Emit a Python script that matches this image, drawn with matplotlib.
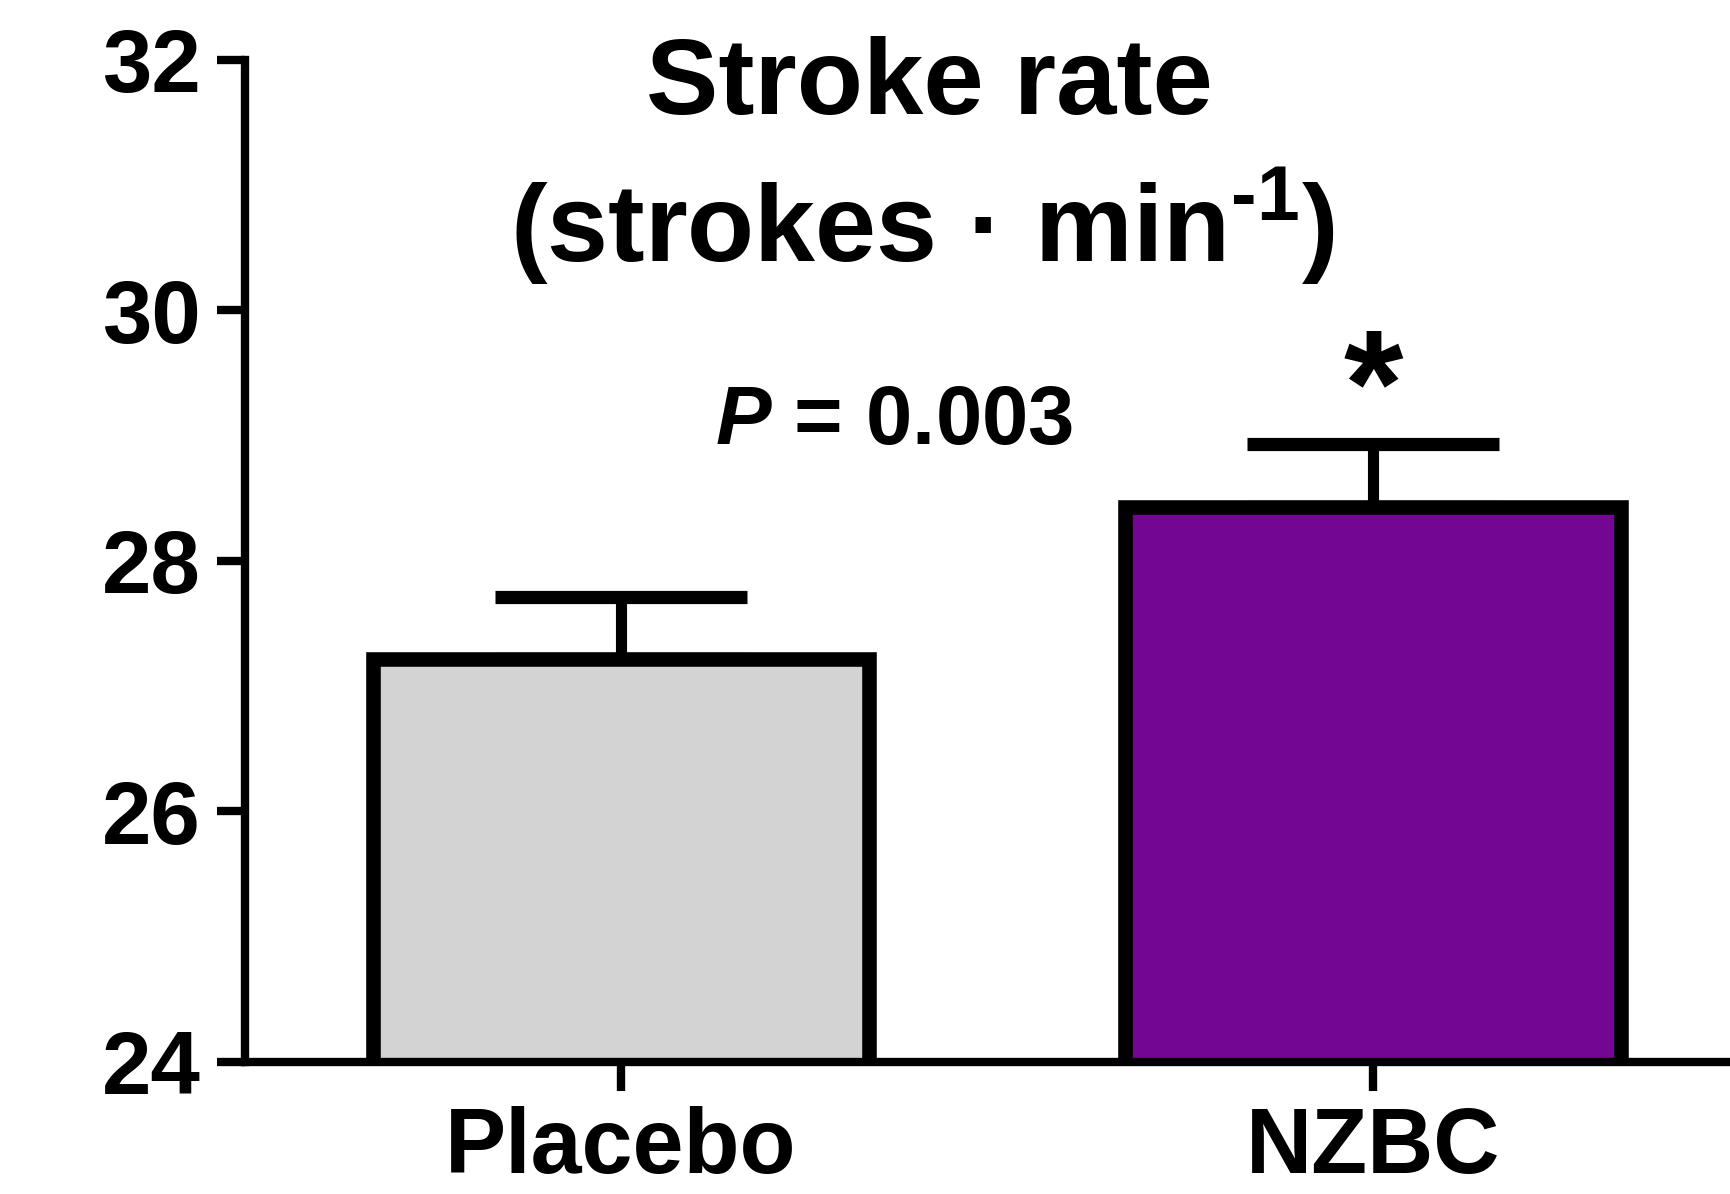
import matplotlib
matplotlib.use("Agg")
import matplotlib.pyplot as plt

# group means and upper error (strokes per minute)
groups = ["Placebo", "NZBC"]
means = [27.22, 28.43]
errors = [0.49, 0.50]
bar_colors = ["#D3D3D3", "#730693"]

y_ticks = [24, 26, 28, 30, 32]
p_label = r"$\mathbfit{P}$ = 0.003"

plt.rcParams["font.family"] = ["Liberation Sans", "DejaVu Sans"]
plt.rcParams["font.weight"] = "bold"
plt.rcParams["mathtext.fontset"] = "custom"
plt.rcParams["mathtext.rm"] = "Liberation Sans:bold"
plt.rcParams["mathtext.bf"] = "Liberation Sans:bold"
plt.rcParams["mathtext.bfit"] = "Liberation Sans:bold:italic"
plt.rcParams["mathtext.it"] = "Liberation Sans:bold:italic"

fig = plt.figure(figsize=(17.31, 11.94), dpi=100)
ax = fig.add_axes([0.1415, 0.1106, 0.8689, 0.8394])

x = list(range(len(groups)))
ax.bar(x, means, width=0.66, bottom=0, color=bar_colors,
       edgecolor="black", linewidth=10.5, zorder=2)
ax.errorbar(x, means, yerr=[[0] * len(errors), errors], fmt="none",
            ecolor="black", elinewidth=8, capsize=91, capthick=9.5, zorder=1)

ax.set_xlim(-0.5, 1.5)
ax.set_ylim(24, 32)
ax.set_yticks(y_ticks)
ax.set_xticks(x)
ax.set_xticklabels(groups, fontsize=66, fontweight="bold")
ax.set_yticklabels([str(t) for t in y_ticks], fontsize=64, fontweight="bold")

for side in ["top", "right"]:
    ax.spines[side].set_visible(False)
for side in ["left", "bottom"]:
    ax.spines[side].set_linewidth(6)
ax.tick_params(axis="y", length=20, width=6, pad=12)
ax.tick_params(axis="x", length=21, width=6, pad=11)

ax.text(0.363, 28.93, p_label, fontsize=60, fontweight="bold",
        ha="center", va="baseline")
ax.text(1.0, 29.0, "*", fontsize=110, fontweight="bold",
        ha="center", va="baseline")

fig.text(0.537, 0.9045, "Stroke rate", fontsize=78, fontweight="bold",
         ha="center", va="baseline")
fig.text(0.533, 0.7806, r"(strokes · min$^{\text{-}\mathbf{1}}$)", fontsize=79,
         fontweight="bold", ha="center", va="baseline")

fig.savefig("out.png", dpi=100)
